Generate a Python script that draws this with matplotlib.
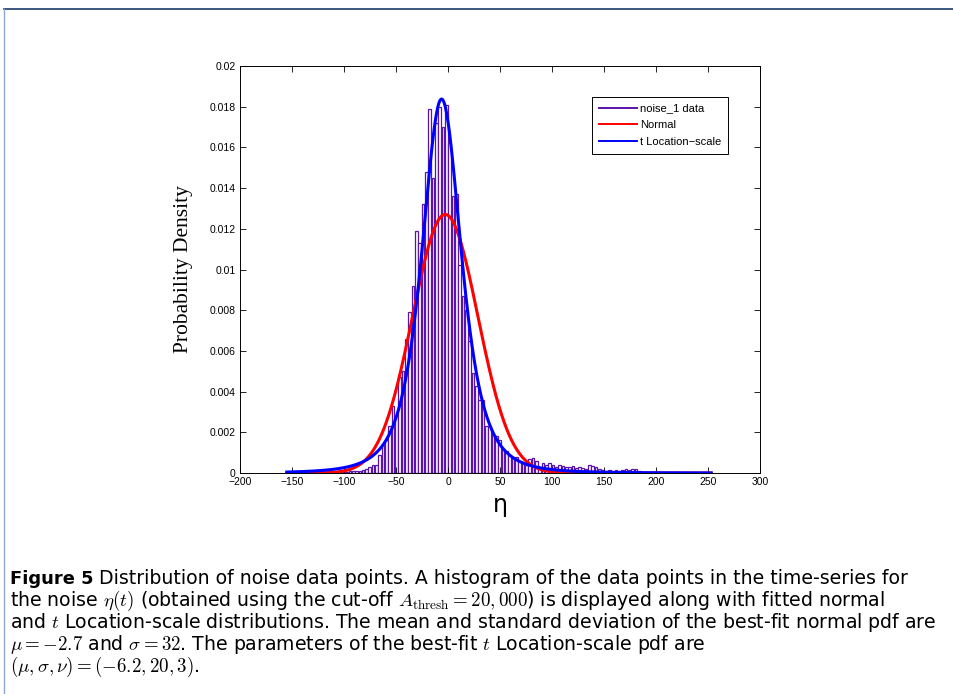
import math
import numpy as np
import matplotlib
matplotlib.use("Agg")
import matplotlib.pyplot as plt
from matplotlib.lines import Line2D
from matplotlib.ticker import FuncFormatter

# histogram of noise_1 data (probability density per bin)
bin_start = -105.6
bin_width = 3.2
density = [
    0.00003, 0.00005, 0.00005, 0.0001, 0.0001, 0.00012, 0.0001, 0.00015, 0.0002,
    0.0003, 0.0004, 0.0004, 0.0009, 0.0014, 0.0016, 0.0023, 0.0033, 0.0028,
    0.0047, 0.0050, 0.0066, 0.0079, 0.0092, 0.0119, 0.0113, 0.0132, 0.0148,
    0.0179, 0.0145, 0.0172, 0.0180, 0.0170, 0.0181, 0.0162, 0.0136, 0.0137,
    0.0102, 0.0087, 0.0080, 0.0065, 0.0049, 0.0043, 0.0036, 0.0036, 0.0023,
    0.0023, 0.0019,
    0.0018, 0.0016, 0.0012, 0.0011, 0.0009, 0.0008, 0.0008, 0.0006, 0.0005,
    0.0004, 0.0007, 0.00075, 0.0006, 0.0003, 0.0005, 0.0004, 0.0005, 0.0004,
    0.0003, 0.0004, 0.00035, 0.0003, 0.0003, 0.00035, 0.00025, 0.0003, 0.00025,
    0.0002, 0.0004, 0.00035, 0.0003, 0.0002, 0.00015, 0.0001, 0.00015, 0.0001,
    0.00015, 0.0001, 0.00015, 0.0002, 0.00015, 0.0002, 0.0002, 0.0001,
    0.00005, 0.00003, 0.0, 0.00003,
]

# fitted distributions
normal_mu, normal_sigma = -2.7, 31.4
t_mu, t_sigma, t_nu = -6.2, 20.0, 3
eta_min, eta_max = -155, 253

xticks = [-200, -150, -100, -50, 0, 50, 100, 150, 200, 250, 300]
yticks = [0, 0.002, 0.004, 0.006, 0.008, 0.01, 0.012, 0.014, 0.016, 0.018, 0.02]

caption_lines = [
    r"the noise $\eta(t)$ (obtained using the cut-off $A_{\rm thresh} = 20,000$) is displayed along with fitted normal",
    r"and $t$ Location-scale distributions. The mean and standard deviation of the best-fit normal pdf are",
    r"$\mu = -2.7$ and $\sigma = 32$. The parameters of the best-fit $t$ Location-scale pdf are",
    r"$(\mu, \sigma, \nu) = (-6.2, 20, 3)$.",
]

purple = "#5a14aa"

plt.rcParams["mathtext.fontset"] = "cm"
fig = plt.figure(figsize=(9.54, 6.94), dpi=100)
ax = fig.add_axes([0.2516, 0.3184, 0.5451, 0.5865])

centers = bin_start + bin_width * (np.arange(len(density)) + 0.5)
ax.bar(centers, density, width=bin_width * 0.8, facecolor="white",
       edgecolor=purple, linewidth=0.9)

eta = np.linspace(eta_min, eta_max, 600)
pdf_norm = np.exp(-0.5 * ((eta - normal_mu) / normal_sigma) ** 2) / (normal_sigma * math.sqrt(2 * math.pi))
c = math.gamma((t_nu + 1) / 2) / (math.sqrt(t_nu * math.pi) * t_sigma * math.gamma(t_nu / 2))
pdf_t = c * (1 + ((eta - t_mu) / t_sigma) ** 2 / t_nu) ** (-(t_nu + 1) / 2)
ax.plot(eta, pdf_norm, color="#ff0000", lw=2.2)
ax.plot(eta, pdf_t, color="#0000ff", lw=2.2)

ax.set_xlim(-200, 300)
ax.set_ylim(0, 0.02)
ax.set_xticks(xticks)
ax.set_yticks(yticks)
ax.xaxis.set_major_formatter(FuncFormatter(lambda v, p: f"{v:g}".replace("-", "\u2212")))
ax.yaxis.set_major_formatter(FuncFormatter(lambda v, p: f"{v:g}"))
ax.tick_params(direction="in", length=4, width=0.6, top=True, right=True,
               labelsize=7.5, pad=3)
for lab in ax.get_xticklabels() + ax.get_yticklabels():
    lab.set_fontfamily("Liberation Sans")
for s in ax.spines.values():
    s.set_linewidth(0.7)

ax.set_ylabel("Probability Density", family="Liberation Serif", fontsize=15.5, labelpad=12)
ax.set_xlabel("\u03b7", family="DejaVu Sans", fontsize=17, labelpad=4)

handles = [Line2D([], [], color=purple, lw=1.4),
           Line2D([], [], color="#ff0000", lw=1.4),
           Line2D([], [], color="#0000ff", lw=1.4)]
leg = ax.legend(handles, ["noise_1 data", "Normal", "t Location\u2212scale"],
                loc="upper right", bbox_to_anchor=(0.9385, 0.924),
                prop={"family": "Liberation Sans", "size": 8},
                fancybox=False, edgecolor="black", framealpha=1,
                handlelength=3.4, handletextpad=0.3, borderpad=0.6,
                labelspacing=0.6, borderaxespad=0)
leg.get_frame().set_linewidth(0.7)

# page frame
fig.add_artist(Line2D([4 / 954, 1], [1 - 9 / 694, 1 - 9 / 694], color="#1a3a6a", lw=1.2))
fig.add_artist(Line2D([4 / 954, 4 / 954], [0, 1 - 9 / 694], color="#8fa8d0", lw=1.0))

# caption
fs = 13.6
t0 = fig.text(10 / 954, 1 - 584 / 694, "Figure 5", fontsize=fs * 0.95, fontweight="bold",
              family="DejaVu Sans", va="baseline")
fig.canvas.draw()
bb = t0.get_window_extent()
fig.text((bb.x1 + 6) / 954, 1 - 584 / 694,
         "Distribution of noise data points. A histogram of the data points in the time-series for",
         fontsize=fs, family="DejaVu Sans", va="baseline")
for i, line in enumerate(caption_lines):
    fig.text(10 / 954, 1 - (605.5 + 22 * i) / 694, line, fontsize=fs,
             family="DejaVu Sans", va="baseline")

fig.savefig("out.png", dpi=100)
